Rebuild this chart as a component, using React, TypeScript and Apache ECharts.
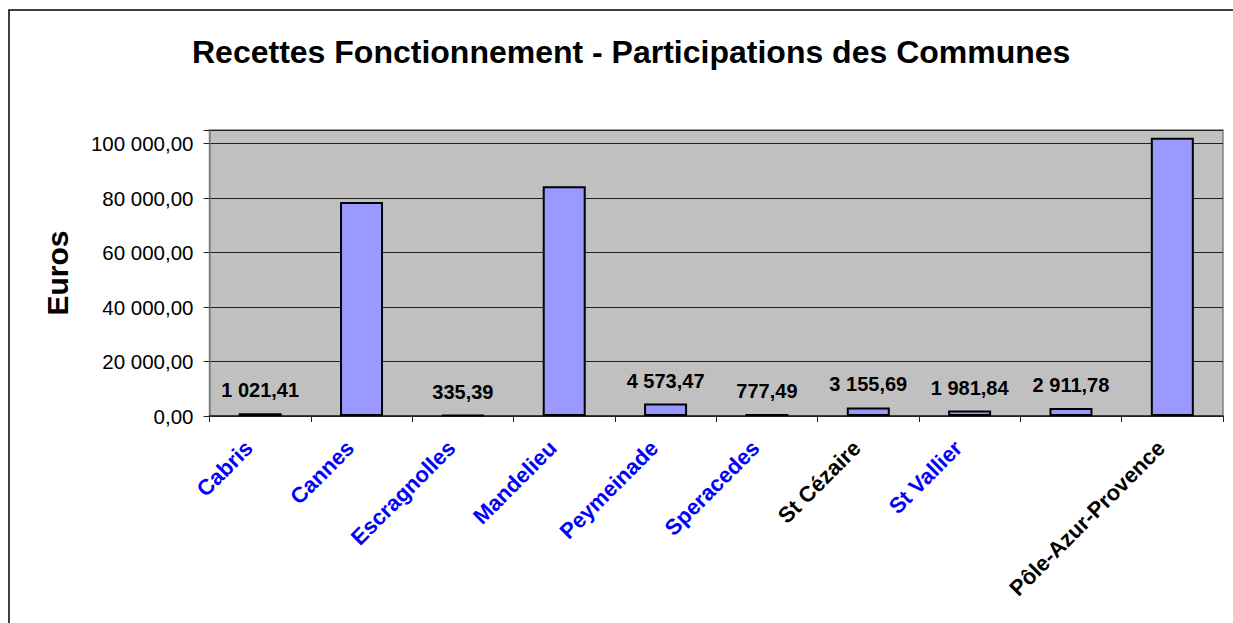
import React, { useEffect, useRef } from "react";
import * as echarts from "echarts";

const categories = [
  "Cabris",
  "Cannes",
  "Escragnolles",
  "Mandelieu",
  "Peymeinade",
  "Speracedes",
  "St Cézaire",
  "St Vallier",
  "",
  "Pôle-Azur-Provence",
];
const values = [1021.41, 78560, 335.39, 84330, 4573.47, 777.49, 3155.69, 1981.84, 2911.78, 102200];
const showValueLabel = [true, false, true, false, true, true, true, true, true, false];
const categoryColors = ["#0000FF", "#0000FF", "#0000FF", "#0000FF", "#0000FF", "#0000FF", "#000000", "#0000FF", "#000000", "#000000"];
const yTicks = [0, 20000, 40000, 60000, 80000, 100000];

const FONT = "'Liberation Sans', Arial, sans-serif";

function fmt(v: number): string {
  const [i, d] = v.toFixed(2).split(".");
  const withSpaces = i.replace(/\B(?=(\d{3})+(?!\d))/g, " ");
  return withSpaces + "," + d;
}

export default function App() {
  const ref = useRef<HTMLDivElement>(null);
  useEffect(() => {
    document.body.style.margin = "0";
    const chart = echarts.init(ref.current!, null, { renderer: "svg" });
    chart.setOption({
      animation: false,
      backgroundColor: "#FFFFFF",
      title: {
        text: "Recettes Fonctionnement - Participations des Communes",
        left: 187,
        top: 31,
        textStyle: { fontFamily: FONT, fontSize: 32, fontWeight: "bold", color: "#000" },
      },
      graphic: [
        {
          type: "rect",
          shape: { x: 9, y: 10, width: 1400, height: 1000 },
          style: { fill: "none", stroke: "#000", lineWidth: 1.5 },
          silent: true,
          z: 100,
        },
      ],
      grid: {
        left: 209.5,
        top: 130,
        right: 10,
        bottom: 207,
        show: true,
        backgroundColor: "#C0C0C0",
        borderColor: "#808080",
        borderWidth: 1.5,
      },
      xAxis: {
        type: "category",
        data: categories.map((c, i) => ({ value: c, textStyle: { color: categoryColors[i] } })),
        axisLine: { lineStyle: { color: "#202020", width: 1.5 } },
        axisTick: { show: true, length: 6, lineStyle: { color: "#202020" } },
        axisLabel: {
          rotate: 45,
          interval: 0,
          margin: 17,
          padding: [0, 16, 0, 0],
          fontFamily: FONT,
          fontSize: 22,
          fontWeight: "bold",
        },
      },
      yAxis: {
        type: "value",
        min: 0,
        max: 105000,
        interval: 20000,
        name: "Euros",
        nameLocation: "middle",
        nameGap: 137,
        nameTextStyle: { fontFamily: FONT, fontSize: 30, fontWeight: "bold", color: "#000" },
        axisLine: { show: true, lineStyle: { color: "#808080", width: 1.5 } },
        axisTick: { show: true, length: 6, lineStyle: { color: "#202020" } },
        splitLine: { show: true, lineStyle: { color: "#202020", width: 1 } },
        axisLabel: {
          margin: 16,
          fontFamily: FONT,
          fontSize: 20.5,
          color: "#000",
          formatter: (v: number) => (yTicks.includes(v) ? fmt(v) : ""),
        },
      },
      series: [
        {
          type: "bar",
          barWidth: 43,
          data: values.map((v, i) => ({
            value: v,
            label: { show: showValueLabel[i] },
          })),
          itemStyle: { color: "#9999FF", borderColor: "#000", borderWidth: 2 },
          label: {
            position: "top",
            distance: 13,
            fontFamily: FONT,
            fontSize: 20,
            fontWeight: "bold",
            color: "#000",
            formatter: (p: any) => fmt(p.value),
          },
        },
      ],
    });
    return () => chart.dispose();
  }, []);
  return <div ref={ref} style={{ width: 1233, height: 623 }} />;
}
